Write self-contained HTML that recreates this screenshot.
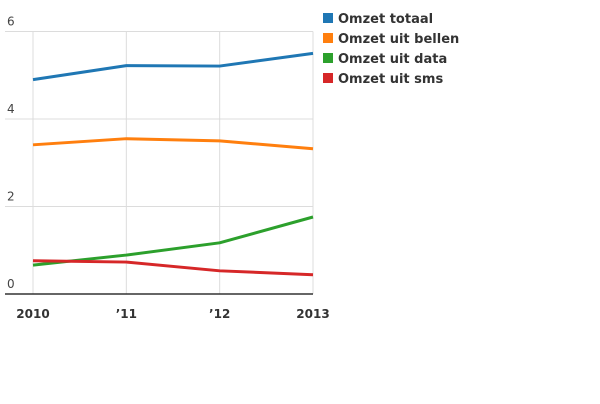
<!DOCTYPE html>
<html><head><meta charset="utf-8"><style>
body{margin:0;background:#fff;width:600px;height:400px;overflow:hidden;font-family:"DejaVu Sans","Liberation Sans",sans-serif}
</style></head><body>
<svg id="chart" width="600" height="400" xmlns="http://www.w3.org/2000/svg"></svg>
<script>
const categories=["2010","’11","’12","2013"];
const yTicks=[0,2,4,6];
const seriesNames=["Omzet totaal","Omzet uit bellen","Omzet uit data","Omzet uit sms"];
const seriesColors=["#1f77b4","#ff7f0e","#2ca02c","#d62728"];
const totaal=[4.90,5.22,5.21,5.50];
const bellen=[3.41,3.55,3.50,3.32];
const data=[0.66,0.89,1.17,1.76];
const sms=[0.76,0.73,0.53,0.44];
const allSeries=[totaal,bellen,data,sms];
const svg=document.getElementById('chart');
const NS="http://www.w3.org/2000/svg";
const x0=33,x1=313,yTop=31.5,yBot=294,yMax=6;
function xs(i){return x0+(x1-x0)*i/(categories.length-1);}
function ys(v){return yBot-(yBot-yTop)*v/yMax;}
function mk(t,a,txt){const e=document.createElementNS(NS,t);for(const k in a)e.setAttribute(k,a[k]);if(txt!==undefined)e.textContent=txt;svg.appendChild(e);return e;}
yTicks.forEach(v=>{
 if(v>0){const g=mk('line',{x1:5,x2:x1,y1:ys(v),y2:ys(v),stroke:'#dcdcdc','stroke-width':1});
 
 }
 const t=mk('text',{x:7,y:ys(v)-6,'font-size':12,fill:'#444'},String(v));
 
 
});
categories.forEach((c,i)=>{
 const g=mk('line',{x1:xs(i),x2:xs(i),y1:yTop,y2:yBot,stroke:'#dcdcdc','stroke-width':1});
 
 
 const t=mk('text',{x:xs(i),y:318,'font-size':12,'font-weight':'bold',fill:'#333','text-anchor':'middle'},c);
 
 
});
const ax=mk('line',{x1:5,x2:x1,y1:yBot,y2:yBot,stroke:'#333','stroke-width':1.5});


allSeries.forEach((s,k)=>{
 const p=mk('polyline',{points:s.map((v,i)=>xs(i)+','+ys(v)).join(' '),fill:'none',stroke:seriesColors[k],'stroke-width':3,'stroke-linejoin':'round'});
 
 
 const r=mk('rect',{x:323,y:13+k*20,width:10,height:10,fill:seriesColors[k]});
 
 
 const t=mk('text',{x:338,y:23+k*20,'font-size':13,'font-weight':'bold',fill:'#333'},seriesNames[k]);
 
 
});
</script>
</body></html>
